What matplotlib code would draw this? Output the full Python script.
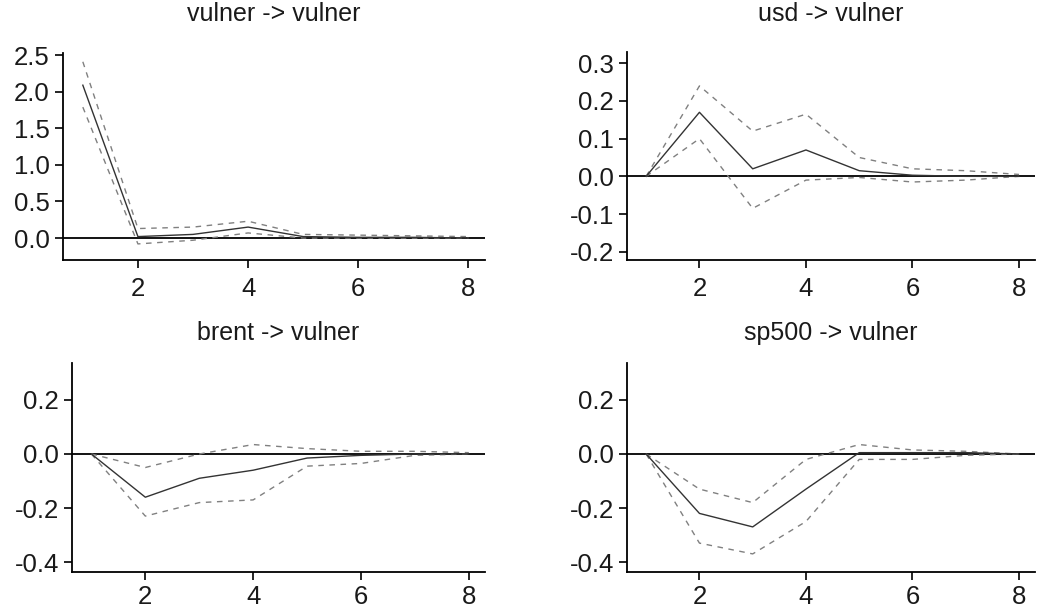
import matplotlib
matplotlib.use("Agg")
import matplotlib.pyplot as plt

plt.rcParams['font.family'] = ['Liberation Sans', 'DejaVu Sans']

steps = [1, 2, 3, 4, 5, 6, 7, 8]
titles = ["vulner -> vulner", "usd -> vulner", "brent -> vulner", "sp500 -> vulner"]

vulner_mean = [2.09, 0.02, 0.05, 0.15, 0.02, 0.01, 0.01, 0.0]
vulner_upper = [2.41, 0.13, 0.15, 0.23, 0.05, 0.04, 0.03, 0.02]
vulner_lower = [1.79, -0.08, -0.03, 0.07, 0.0, 0.0, 0.0, 0.0]

usd_mean = [0.0, 0.17, 0.02, 0.07, 0.015, 0.003, 0.0, 0.0]
usd_upper = [0.0, 0.24, 0.12, 0.165, 0.05, 0.02, 0.015, 0.005]
usd_lower = [0.0, 0.10, -0.085, -0.01, -0.003, -0.015, -0.01, 0.0]

brent_mean = [0.0, -0.16, -0.09, -0.06, -0.015, -0.005, 0.0, 0.0]
brent_upper = [0.0, -0.05, 0.0, 0.035, 0.02, 0.01, 0.01, 0.005]
brent_lower = [0.0, -0.23, -0.18, -0.17, -0.045, -0.035, -0.005, 0.0]

sp500_mean = [0.0, -0.22, -0.27, -0.13, 0.005, 0.005, 0.005, 0.0]
sp500_upper = [0.0, -0.13, -0.18, -0.02, 0.035, 0.015, 0.01, 0.0]
sp500_lower = [0.0, -0.33, -0.37, -0.25, -0.02, -0.02, -0.005, 0.0]

series = [
    (vulner_mean, vulner_upper, vulner_lower),
    (usd_mean, usd_upper, usd_lower),
    (brent_mean, brent_upper, brent_lower),
    (sp500_mean, sp500_upper, sp500_lower),
]
yticks = [
    [0.0, 0.5, 1.0, 1.5, 2.0, 2.5],
    [-0.2, -0.1, 0.0, 0.1, 0.2, 0.3],
    [-0.4, -0.2, 0.0, 0.2],
    [-0.4, -0.2, 0.0, 0.2],
]
ylims = [(-0.30, 2.53), (-0.222, 0.33), (-0.437, 0.337), (-0.437, 0.337)]
xticks = [2, 4, 6, 8]

W, H = 1038, 611
fig = plt.figure(figsize=(W / 100, H / 100), dpi=100)
# pixel boxes: left, right, top, bottom
boxes = [(63, 485, 53, 260), (627, 1035, 52, 260), (72, 485, 363, 572), (627, 1035, 363, 572)]
title_y = [14, 14, 333, 333]
xpad = [7, 7, 3.5, 3.5]

for i, (l, r, t, b) in enumerate(boxes):
    ax = fig.add_axes([l / W, 1 - b / H, (r - l) / W, (b - t) / H])
    m, u, lo = series[i]
    ax.axhline(0, color='black', lw=1.3, zorder=1)
    ax.plot(steps, u, color='#808080', lw=1.0, ls=(0, (4, 4)))
    ax.plot(steps, lo, color='#808080', lw=1.0, ls=(0, (4, 4)))
    ax.plot(steps, m, color='#333333', lw=1.0)
    ax.set_xlim(0.64, 8.3)
    ax.set_ylim(*ylims[i])
    ax.set_xticks(xticks)
    ax.set_yticks(yticks[i])
    ax.set_yticklabels([f"{v:.1f}" for v in yticks[i]])
    for s in ['top', 'right']:
        ax.spines[s].set_visible(False)
    for s in ['left', 'bottom']:
        ax.spines[s].set_linewidth(1.3)
    ax.tick_params(direction='out', length=5.5, width=1.2, labelsize=18.5,
                   labelcolor='#1a1a1a', pad=4)
    ax.tick_params(axis='x', pad=xpad[i])
    fig.text(((l + r) / 2) / W, 1 - title_y[i] / H, titles[i],
             ha='center', va='center', fontsize=18, color='#1a1a1a')

fig.savefig("out.png", dpi=100)
